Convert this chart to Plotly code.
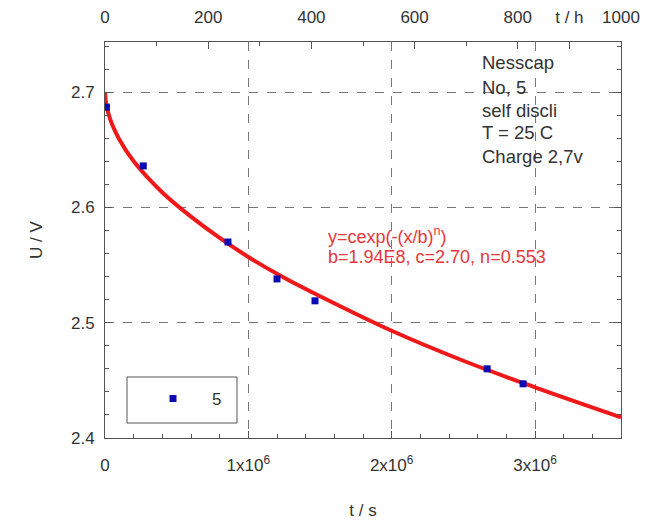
import plotly.graph_objects as go

# measured data (t in s, U in V)
t_data = [1.0e4, 0.267e6, 0.858e6, 1.20e6, 1.465e6, 2.666e6, 2.917e6]
u_data = [2.687, 2.636, 2.570, 2.538, 2.519, 2.460, 2.447]

# fitted curve
t_fit = [0, 5e3, 1e4, 2e4, 5e4, 1e5, 2e5, 4e5, 6e5, 8e5, 1.0e6, 1.25e6, 1.5e6, 2.0e6, 2.5e6, 3.0e6, 3.6e6]
u_fit = [2.700, 2.692, 2.6885, 2.683, 2.672, 2.659, 2.640, 2.613, 2.592, 2.5735, 2.557, 2.539, 2.523, 2.493, 2.467, 2.444, 2.418]

x_ticks = [0, 1e6, 2e6, 3e6]
x_ticktext = ["0", "1x10<sup>6</sup>", "2x10<sup>6</sup>", "3x10<sup>6</sup>"]
top_ticks = [0, 200, 400, 600, 800, 900, 1000]
top_ticktext = ["0", "200", "400", "600", "800", "t / h", "1000"]
y_ticks = [2.4, 2.5, 2.6, 2.7]

info_lines = ["Nesscap", "No, 5", "self discli", "T = 25 C", "Charge 2,7v"]
fit_lines = ["y=cexp(-(x/b)<sup>n</sup>)", "b=1.94E8, c=2.70, n=0.553"]

FONT = "Liberation Sans, Arial, sans-serif"
TXT = "#333333"

# plot area in page pixels (page has 8px body margin)
OFF = 8
W, H = 652 - OFF, 520 - OFF
PL, PR, PT, PB = 105, 621, 42, 438
def px(x):
    return (x - PL) / (PR - PL)
def py(y):
    return (PB - y) / (PB - PT)

fig = go.Figure()
fig.add_trace(go.Scatter(x=t_fit, y=u_fit, mode="lines", line=dict(color="#f01818", width=4, shape="spline"),
                         showlegend=False, hoverinfo="skip"))
fig.add_trace(go.Scatter(x=t_data, y=u_data, mode="markers", name="&nbsp;&nbsp;&nbsp;&nbsp;5",
                         marker=dict(symbol="square", size=7, color="#0a0ab4")))
# invisible trace for top axis
fig.add_trace(go.Scatter(x=[0, 1000], y=[2.5, 2.5], xaxis="x2", mode="markers",
                         marker=dict(opacity=0), showlegend=False, hoverinfo="skip"))

axis_common = dict(showline=True, linecolor="#555555", linewidth=1, ticks="inside", ticklen=7,
                   tickcolor="#555555", tickfont=dict(family=FONT, size=17, color=TXT), zeroline=False,
                   automargin=False)

fig.update_layout(
    width=W, height=H,
    margin=dict(l=PL - OFF, r=W + OFF - PR, t=PT - OFF, b=H + OFF - PB, autoexpand=False),
    paper_bgcolor="white", plot_bgcolor="white",
    font=dict(family=FONT, size=17, color=TXT),
    xaxis=dict(range=[0, 3.6e6], tickvals=x_ticks, ticktext=x_ticktext, ticklabelstandoff=12,
               showgrid=True, gridcolor="#777777", griddash="dash", gridwidth=1,
               minor=dict(dtick=2e5, tick0=0, ticks="inside", ticklen=4, tickcolor="#555555", showgrid=False),
               title=dict(text="t / s", font=dict(family=FONT, size=17, color=TXT), standoff=34),
               **axis_common),
    xaxis2=dict(range=[0, 1000], overlaying="x", side="top", tickvals=top_ticks, ticktext=top_ticktext,
                showgrid=False, ticklabelstandoff=11,
                minor=dict(dtick=100, tick0=0, ticks="inside", ticklen=4, tickcolor="#555555", showgrid=False),
                **axis_common),
    yaxis=dict(range=[2.4, 2.7435], tickvals=y_ticks, mirror="ticks", ticklabelstandoff=6,
               showgrid=True, gridcolor="#777777", griddash="dash", gridwidth=1,
               minor=dict(dtick=0.02, tick0=2.4, ticks="inside", ticklen=4, tickcolor="#555555", showgrid=False),
               title=dict(text="U / V", font=dict(family=FONT, size=17, color=TXT), standoff=24),
               **axis_common),
    legend=dict(x=px(153), y=py(399), xanchor="left", yanchor="middle",
                bgcolor="rgba(0,0,0,0)", borderwidth=0,
                font=dict(family=FONT, size=17, color=TXT)),
    shapes=[dict(type="rect", xref="paper", yref="paper", x0=px(127), x1=px(237), y0=py(423), y1=py(377),
                 line=dict(color="#555555", width=1), fillcolor="rgba(0,0,0,0)", layer="below")],
)

info_y = [63, 87, 110, 133, 156]
for txt, yy in zip(info_lines, info_y):
    fig.add_annotation(text=txt, xref="paper", yref="paper", x=px(480), y=py(yy),
                       xanchor="left", yanchor="middle", showarrow=False,
                       font=dict(family=FONT, size=18.5, color=TXT))
fit_y = [235, 257]
for txt, yy in zip(fit_lines, fit_y):
    fig.add_annotation(text=txt, xref="paper", yref="paper", x=px(326), y=py(yy),
                       xanchor="left", yanchor="middle", showarrow=False,
                       font=dict(family=FONT, size=18, color="#e8363c"))

fig.write_html("out.html")
